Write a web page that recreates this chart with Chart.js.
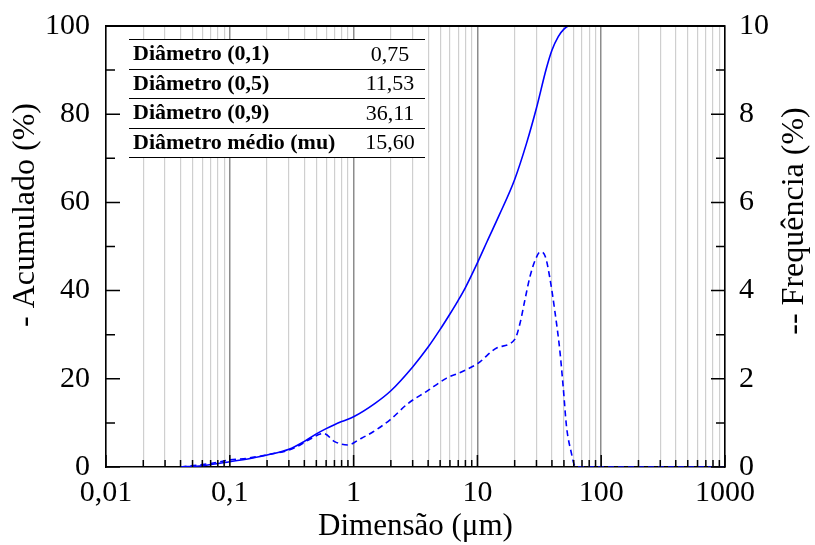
<!DOCTYPE html>
<html>
<head>
<meta charset="utf-8">
<script src="https://cdn.jsdelivr.net/npm/chart.js@4.4.1/dist/chart.umd.min.js"></script>
<style>
  html, body { margin: 0; padding: 0; background: #fff; }
  #wrap { width: 815px; height: 545px; }
</style>
</head>
<body>
<div id="wrap"><canvas id="chart"></canvas></div>
<script>
// cumulative curve (left axis, %)
const cumDiameter = [0.04, 0.06, 0.1, 0.15, 0.2, 0.3, 0.4, 0.5, 0.6, 0.7, 0.8, 1, 1.5, 2, 3, 4, 5, 6, 7, 8, 10, 12, 15, 20, 25, 30, 36, 40, 45, 50, 55, 100, 1000];
const cumPercent  = [0, 0.3, 1.2, 2.0, 2.7, 4.0, 5.8, 7.5, 8.7, 9.6, 10.3, 11.4, 14.5, 17.3, 22.7, 27.2, 31.2, 34.7, 37.8, 40.7, 46.3, 51.2, 57.1, 65.2, 73.5, 81.4, 90.3, 94.5, 97.6, 99.3, 100, 100, 100];

// frequency curve (right axis, %)
const freqDiameter = [0.04, 0.07, 0.1, 0.14, 0.21, 0.29, 0.37, 0.45, 0.57, 0.71, 0.9, 1.12, 1.44, 1.97, 2.75, 3.87, 5.6, 7.5, 10.1, 14.3, 20.1, 22.1, 24.2, 26.6, 29.3, 32.2, 35.4, 38.3, 42.1, 46.3, 49.3, 52.5, 57.5, 60.6, 65, 1000];
const freqPercent  = [0, 0.08, 0.16, 0.2, 0.29, 0.37, 0.5, 0.64, 0.76, 0.57, 0.5, 0.63, 0.8, 1.07, 1.44, 1.71, 2.01, 2.16, 2.35, 2.7, 2.9, 3.26, 3.79, 4.32, 4.69, 4.88, 4.77, 4.32, 3.56, 2.65, 1.82, 0.91, 0.31, 0.05, 0, 0];

const xTickValues = [0.01, 0.1, 1, 10, 100, 1000];
const xTickLabels = ['0,01', '0,1', '1', '10', '100', '1000'];

const tableLabels = ['Diâmetro (0,1)', 'Diâmetro (0,5)', 'Diâmetro (0,9)', 'Diâmetro médio (mu)'];
const tableValues = ['0,75', '11,53', '36,11', '15,60'];

const SERIF = "'Liberation Serif', 'Times New Roman', serif";
Chart.defaults.font.family = SERIF;
Chart.defaults.color = '#000';

const isDecade = v => Math.abs(Math.log10(v) - Math.round(Math.log10(v))) < 1e-6;

// inward ticks, top border, table and rotated y titles
const frame = {
    id: 'frame',
    beforeDatasetsDraw(chart) {
        const ctx = chart.ctx;
        const x0 = 129, x1 = 425, top = 39, rowH = 29.5;
        ctx.save();
        ctx.fillStyle = '#fff';
        ctx.fillRect(x0, top, x1 - x0, rowH * tableLabels.length);
        ctx.strokeStyle = '#000';
        ctx.lineWidth = 1;
        for (let i = 0; i <= tableLabels.length; i++) {
            const y = Math.round(top + i * rowH) + 0.5;
            ctx.beginPath(); ctx.moveTo(x0, y); ctx.lineTo(x1, y); ctx.stroke();
        }
        ctx.fillStyle = '#000';
        ctx.textBaseline = 'middle';
        tableLabels.forEach((lab, i) => {
            const cy = top + i * rowH + rowH / 2 + 1;
            ctx.font = 'bold 22px ' + SERIF;
            ctx.textAlign = 'left';
            ctx.fillText(lab, 133, cy);
            ctx.font = '22px ' + SERIF;
            ctx.textAlign = 'center';
            ctx.fillText(tableValues[i], 390, cy);
        });
        ctx.restore();
    },
    afterDraw(chart) {
        const ctx = chart.ctx;
        const a = chart.chartArea;
        const sx = chart.scales.x, sy = chart.scales.y, sy1 = chart.scales.y1;
        ctx.save();
        ctx.strokeStyle = '#000';
        ctx.lineWidth = 2;
        ctx.beginPath();
        ctx.moveTo(a.left, a.top); ctx.lineTo(a.right, a.top);
        ctx.stroke();
        ctx.lineWidth = 1.5;
        ctx.beginPath();
        sx.ticks.forEach(t => {
            const px = sx.getPixelForValue(t.value);
            const len = isDecade(t.value) ? 12 : 7;
            ctx.moveTo(px, a.bottom); ctx.lineTo(px, a.bottom - len);
        });
        sy.ticks.forEach(t => {
            const py = sy.getPixelForValue(t.value);
            const len = t.value % 20 === 0 ? 14 : 9;
            ctx.moveTo(a.left, py); ctx.lineTo(a.left + len, py);
        });
        sy1.ticks.forEach(t => {
            const py = sy1.getPixelForValue(t.value);
            const len = t.value % 2 === 0 ? 14 : 9;
            ctx.moveTo(a.right, py); ctx.lineTo(a.right - len, py);
        });
        ctx.stroke();

        ctx.fillStyle = '#000';
        ctx.font = '32px ' + SERIF;
        ctx.textAlign = 'center';
        ctx.textBaseline = 'middle';
        [[26, 215, '- Acumulado (%)'], [795, 221, '-- Frequência (%)']].forEach(([x, y, s]) => {
            ctx.save();
            ctx.translate(x, y);
            ctx.rotate(-Math.PI / 2);
            ctx.fillText(s, 0, 0);
            ctx.restore();
        });
        ctx.restore();
    }
};

new Chart(document.getElementById('chart'), {
    type: 'line',
    data: {
        datasets: [
            {
                label: 'Acumulado',
                data: cumDiameter.map((d, i) => ({ x: d, y: cumPercent[i] })),
                yAxisID: 'y',
                borderColor: '#0000ff',
                borderWidth: 1.6,
                pointRadius: 0,
                cubicInterpolationMode: 'monotone'
            },
            {
                label: 'Frequência',
                data: freqDiameter.map((d, i) => ({ x: d, y: freqPercent[i] })),
                yAxisID: 'y1',
                borderColor: '#0000ff',
                borderWidth: 1.6,
                borderDash: [6, 4],
                pointRadius: 0,
                cubicInterpolationMode: 'monotone'
            }
        ]
    },
    options: {
        responsive: true, maintainAspectRatio: false, animation: false,
        layout: { padding: { top: 26, left: 0, right: 0, bottom: 0 } },
        plugins: { legend: { display: false }, tooltip: { enabled: false } },
        scales: {
            x: {
                type: 'logarithmic', min: 0.01, max: 1000,
                afterBuildTicks: axis => {
                    const ticks = [];
                    for (let e = -2; e < 3; e++) {
                        for (let m = 1; m < 10; m++) ticks.push({ value: m * Math.pow(10, e) });
                    }
                    ticks.push({ value: 1000 });
                    axis.ticks = ticks;
                },
                afterFit: axis => { axis.height = 78; axis.paddingLeft = 0; axis.paddingRight = 0; },
                grid: {
                    drawTicks: false,
                    color: ctx => (ctx.tick && isDecade(ctx.tick.value)) ? '#8c8c8c' : '#cfcfcf',
                    lineWidth: ctx => (ctx.tick && isDecade(ctx.tick.value)) ? 1.5 : 1.2
                },
                border: { color: '#000', width: 1.5 },
                ticks: {
                    autoSkip: false, maxRotation: 0, padding: 8,
                    font: { size: 30 },
                    callback: v => {
                        const i = xTickValues.findIndex(t => Math.abs(t - v) / t < 1e-6);
                        return i >= 0 ? xTickLabels[i] : '';
                    }
                },
                title: { display: true, text: 'Dimensão (μm)', font: { size: 31 }, padding: { top: -4, bottom: 0 } }
            },
            y: {
                position: 'left', min: 0, max: 100,
                afterFit: axis => { axis.width = 106; axis.paddingTop = 0; axis.paddingBottom = 0; },
                grid: { display: false, drawTicks: false },
                border: { color: '#000', width: 1.5 },
                ticks: {
                    stepSize: 10, padding: 16, font: { size: 30 },
                    callback: v => v % 20 === 0 ? v : ''
                }
            },
            y1: {
                position: 'right', min: 0, max: 10,
                afterFit: axis => { axis.width = 90; axis.paddingTop = 0; axis.paddingBottom = 0; },
                grid: { display: false, drawTicks: false },
                border: { color: '#000', width: 1.5 },
                ticks: {
                    stepSize: 1, padding: 14, font: { size: 30 },
                    callback: v => v % 2 === 0 ? v : ''
                }
            }
        }
    },
    plugins: [frame]
});
</script>
</body>
</html>
